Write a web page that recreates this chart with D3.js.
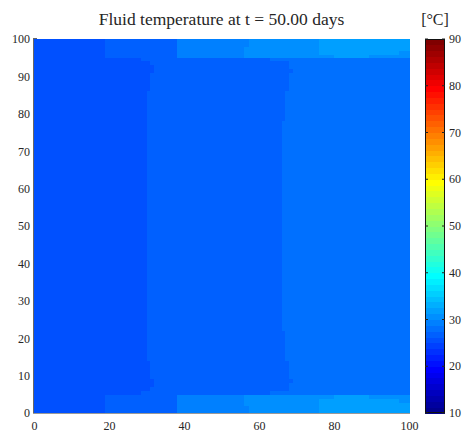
<!DOCTYPE html>
<html>
<head>
<meta charset="utf-8">
<script src="https://cdn.jsdelivr.net/npm/d3@7"></script>
<style>
  body { margin: 0; background: #fff; }
  svg text { font-family: 'Liberation Serif', 'DejaVu Serif', serif; fill: #262626; }
</style>
</head>
<body>
<div id="graf"></div>
<script>
// I. Datos
titulo = 'Fluid temperature at t = 50.00 days'
unidad = '[°C]'

// bordes de las celdas (x de izquierda a derecha, y de arriba a abajo)
xEdges = [0, 19, 28.4, 30, 31, 32, 38, 56, 57.2, 63, 66, 67, 68, 69, 76, 80, 89.2, 97.2, 100]
yEdges = [100, 97.8, 96.9, 95.8, 94.9, 94, 93, 92, 91, 86, 78, 22, 14, 9, 8, 7, 6, 4.9, 3.8, 2.7, 1.8, 0]

// temperatura por celda [°C], una fila por franja de y
temps = [
  [25.6, 26.9, 26.9, 26.9, 26.9, 26.9, 29.4, 29.4, 30.6, 30.6, 30.6, 30.6, 30.6, 30.6, 31.9, 31.9, 31.9, 31.9],
  [25.6, 26.9, 26.9, 26.9, 26.9, 26.9, 29.4, 30.6, 30.6, 30.6, 30.6, 30.6, 30.6, 30.6, 31.9, 31.9, 31.9, 31.9],
  [25.6, 26.9, 26.9, 26.9, 26.9, 26.9, 29.4, 30.6, 30.6, 30.6, 30.6, 30.6, 30.6, 30.6, 31.9, 31.9, 31.9, 30.6],
  [25.6, 26.9, 26.9, 26.9, 26.9, 26.9, 29.4, 30.6, 30.6, 30.6, 30.6, 30.6, 30.6, 30.6, 30.6, 31.9, 30.6, 30.6],
  [25.6, 25.6, 26.9, 26.9, 26.9, 26.9, 26.9, 26.9, 26.9, 28.1, 28.1, 28.1, 28.1, 28.1, 28.1, 28.1, 28.1, 28.1],
  [25.6, 25.6, 25.6, 25.6, 26.9, 26.9, 26.9, 26.9, 26.9, 26.9, 26.9, 26.9, 28.1, 28.1, 28.1, 28.1, 28.1, 28.1],
  [25.6, 25.6, 25.6, 25.6, 25.6, 26.9, 26.9, 26.9, 26.9, 26.9, 26.9, 26.9, 28.1, 28.1, 28.1, 28.1, 28.1, 28.1],
  [25.6, 25.6, 25.6, 25.6, 25.6, 26.9, 26.9, 26.9, 26.9, 26.9, 26.9, 26.9, 26.9, 28.1, 28.1, 28.1, 28.1, 28.1],
  [25.6, 25.6, 25.6, 25.6, 26.9, 26.9, 26.9, 26.9, 26.9, 26.9, 26.9, 26.9, 28.1, 28.1, 28.1, 28.1, 28.1, 28.1],
  [25.6, 25.6, 25.6, 26.9, 26.9, 26.9, 26.9, 26.9, 26.9, 26.9, 26.9, 28.1, 28.1, 28.1, 28.1, 28.1, 28.1, 28.1],
  [25.6, 25.6, 25.6, 26.9, 26.9, 26.9, 26.9, 26.9, 26.9, 26.9, 28.1, 28.1, 28.1, 28.1, 28.1, 28.1, 28.1, 28.1],
  [25.6, 25.6, 25.6, 26.9, 26.9, 26.9, 26.9, 26.9, 26.9, 26.9, 26.9, 28.1, 28.1, 28.1, 28.1, 28.1, 28.1, 28.1],
  [25.6, 25.6, 25.6, 25.6, 26.9, 26.9, 26.9, 26.9, 26.9, 26.9, 26.9, 26.9, 28.1, 28.1, 28.1, 28.1, 28.1, 28.1],
  [25.6, 25.6, 25.6, 25.6, 25.6, 26.9, 26.9, 26.9, 26.9, 26.9, 26.9, 26.9, 26.9, 28.1, 28.1, 28.1, 28.1, 28.1],
  [25.6, 25.6, 25.6, 25.6, 25.6, 26.9, 26.9, 26.9, 26.9, 26.9, 26.9, 26.9, 28.1, 28.1, 28.1, 28.1, 28.1, 28.1],
  [25.6, 25.6, 25.6, 25.6, 26.9, 26.9, 26.9, 26.9, 26.9, 26.9, 26.9, 26.9, 28.1, 28.1, 28.1, 28.1, 28.1, 28.1],
  [25.6, 25.6, 26.9, 26.9, 26.9, 26.9, 26.9, 26.9, 26.9, 28.1, 28.1, 28.1, 28.1, 28.1, 28.1, 28.1, 28.1, 28.1],
  [25.6, 26.9, 26.9, 26.9, 26.9, 26.9, 29.4, 30.6, 30.6, 30.6, 30.6, 30.6, 30.6, 30.6, 30.6, 31.9, 30.6, 30.6],
  [25.6, 26.9, 26.9, 26.9, 26.9, 26.9, 29.4, 30.6, 30.6, 30.6, 30.6, 30.6, 30.6, 30.6, 31.9, 31.9, 31.9, 30.6],
  [25.6, 26.9, 26.9, 26.9, 26.9, 26.9, 29.4, 30.6, 30.6, 30.6, 30.6, 30.6, 30.6, 30.6, 31.9, 31.9, 31.9, 31.9],
  [25.6, 26.9, 26.9, 26.9, 26.9, 26.9, 29.4, 29.4, 30.6, 30.6, 30.6, 30.6, 30.6, 30.6, 31.9, 31.9, 31.9, 31.9]
]

xTicks = [0, 20, 40, 60, 80, 100]
yTicks = [0, 10, 20, 30, 40, 50, 60, 70, 80, 90, 100]
cTicks = [10, 20, 30, 40, 50, 60, 70, 80, 90]
cRange = [10, 90]

// II. Configuración
ancho_total = 462
alto_total = 432
margins = { top: 39, left: 34, right: 53, bottom: 19 }
ancho = ancho_total - margins.left - margins.right
alto = alto_total - margins.top - margins.bottom
cbX = 425
cbW = 20

svg = d3.select('#graf').append('svg')
        .attr('width', ancho_total)
        .attr('height', alto_total)

x = d3.scaleLinear().domain([0, 100]).range([margins.left, margins.left + ancho])
y = d3.scaleLinear().domain([0, 100]).range([margins.top + alto, margins.top])

// mapa de color jet de 64 niveles (como MATLAB)
function jet(m) {
  n = Math.ceil(m / 4)
  u = []
  for (k = 1; k <= n; k++) u.push(k / n)
  for (k = 1; k < n; k++) u.push(1)
  for (k = n; k >= 1; k--) u.push(k / n)
  g0 = Math.ceil(n / 2) - (m % 4 == 1 ? 1 : 0)
  cols = []
  for (i = 1; i <= m; i++) {
    ch = [i - g0 - n, i - g0, i - g0 + n].map(k => (k >= 1 && k <= u.length) ? u[k - 1] : 0)
    cols.push(d3.rgb(ch[0] * 255, ch[1] * 255, ch[2] * 255).formatHex())
  }
  return cols
}
jetColors = jet(64)
color = d3.scaleQuantize().domain(cRange).range(jetColors)

// III. Ejes (debajo del campo)
g = svg.append('g')

g.append('g')
  .attr('transform', `translate(0,${ margins.top + alto })`)
  .call(d3.axisBottom(x).tickValues(xTicks).tickSize(-4).tickPadding(8))
  .call(a => a.select('.domain').remove())
  .call(a => a.selectAll('line').attr('stroke', '#555'))
  .selectAll('text').attr('font-size', '12px')

g.append('g')
  .attr('transform', `translate(${ margins.left },0)`)
  .call(d3.axisLeft(y).tickValues(yTicks).tickSize(-4).tickPadding(4))
  .call(a => a.select('.domain').remove())
  .call(a => a.selectAll('line').attr('stroke', '#555'))
  .selectAll('text').attr('font-size', '12px')

g.selectAll('.tick text').attr('font-family', "'Liberation Serif', serif").attr('fill', '#262626')

// IV. Campo de temperatura
celdas = []
temps.forEach((fila, i) => {
  fila.forEach((t, j) => {
    celdas.push({ x0: xEdges[j], x1: xEdges[j + 1], y0: yEdges[i + 1], y1: yEdges[i], t: t })
  })
})

svg.append('g')
  .attr('shape-rendering', 'crispEdges')
  .selectAll('rect')
  .data(celdas)
  .enter()
  .append('rect')
    .attr('x', d => x(d.x0))
    .attr('y', d => y(d.y1))
    .attr('width', d => x(d.x1) - x(d.x0) + 0.5)
    .attr('height', d => y(d.y0) - y(d.y1) + 0.5)
    .attr('fill', d => color(d.t))

// líneas de los ejes encima
svg.append('line')
  .attr('x1', margins.left - 0.5).attr('x2', margins.left - 0.5)
  .attr('y1', margins.top - 1).attr('y2', margins.top + alto + 1)
  .attr('stroke', '#666')
svg.append('line')
  .attr('x1', margins.left - 1).attr('x2', margins.left + ancho + 1)
  .attr('y1', margins.top + alto + 0.5).attr('y2', margins.top + alto + 0.5)
  .attr('stroke', '#999')
// marca visible en 100 (arriba a la izquierda)
svg.append('line')
  .attr('x1', margins.left).attr('x2', margins.left + 3)
  .attr('y1', y(100) - 0.5).attr('y2', y(100) - 0.5)
  .attr('stroke', '#666')

// V. Barra de color
cb = d3.scaleLinear().domain(cRange).range([margins.top + alto, margins.top])
paso = (cRange[1] - cRange[0]) / jetColors.length

svg.append('g')
  .attr('shape-rendering', 'crispEdges')
  .selectAll('rect')
  .data(jetColors)
  .enter()
  .append('rect')
    .attr('x', cbX)
    .attr('y', (c, i) => cb(cRange[0] + (i + 1) * paso))
    .attr('width', cbW)
    .attr('height', (c, i) => cb(cRange[0] + i * paso) - cb(cRange[0] + (i + 1) * paso) + 0.5)
    .attr('fill', c => c)

svg.append('rect')
  .attr('x', cbX + 0.5).attr('y', margins.top + 0.5)
  .attr('width', cbW - 1).attr('height', alto - 1)
  .attr('fill', 'none').attr('stroke', '#111')

cbt = svg.append('g').selectAll('g').data(cTicks).enter().append('g')
cbt.append('line')
  .attr('x1', cbX).attr('x2', cbX + 3)
  .attr('y1', d => cb(d)).attr('y2', d => cb(d))
  .attr('stroke', '#222')
cbt.append('line')
  .attr('x1', cbX + cbW - 3).attr('x2', cbX + cbW)
  .attr('y1', d => cb(d)).attr('y2', d => cb(d))
  .attr('stroke', '#222')
cbt.append('text')
  .attr('x', cbX + cbW + 4)
  .attr('y', d => cb(d))
  .attr('dy', '0.35em')
  .attr('font-size', '12px')
  .text(d => d)

// VI. Títulos
svg.append('text')
  .attr('x', margins.left + ancho / 2)
  .attr('y', 25)
  .attr('text-anchor', 'middle')
  .attr('font-size', '17.5px')
  .text(titulo)

svg.append('text')
  .attr('x', cbX + cbW / 2)
  .attr('y', 25)
  .attr('text-anchor', 'middle')
  .attr('font-size', '16px')
  .text(unidad)
</script>
</body>
</html>
